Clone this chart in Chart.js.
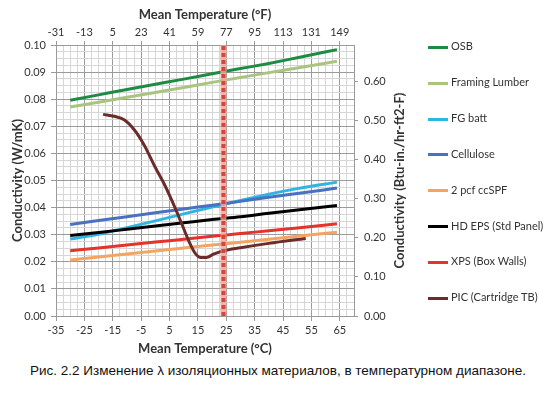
<!DOCTYPE html>
<html>
<head>
<meta charset="utf-8">
<script src="https://cdn.jsdelivr.net/npm/chart.js@4"></script>
<style>
  html, body { margin: 0; padding: 0; background: #fff; }
  #wrap { position: relative; width: 548px; height: 395px; overflow: hidden; }
  #c { position: absolute; left: 0; top: 0; }
  #legend { position: absolute; left: 428px; top: 0; font: 11px Lato, sans-serif; color: #333; }
  .item { position: absolute; left: 0; white-space: nowrap; height: 14px; line-height: 14px; }
  .item i { display: inline-block; width: 20px; height: 3px; vertical-align: middle; margin-right: 3px; }
  #caption { position: absolute; left: 30px; top: 363px; font: 13.5px "Liberation Sans", Arial, sans-serif; color: #111; white-space: nowrap; }
</style>
</head>
<body>
<div id="wrap">
  <canvas id="c" width="548" height="360"></canvas>
  <div id="legend"></div>
  <div id="caption">Рис. 2.2 Изменение λ изоляционных материалов, в температурном диапазоне.</div>
</div>
<script>
'use strict';

// ── данные (°C, W/mK) ─────────────────────────────
const TEMPS = [-30, -20, -10, 0, 10, 20, 30, 40, 50, 64];
const OSB      = [0.0796, 0.0816, 0.0836, 0.0855, 0.0874, 0.0894, 0.0913, 0.0932, 0.0953, 0.0983];
const LUMBER   = [0.0771, 0.0789, 0.0807, 0.0825, 0.0843, 0.0862, 0.0880, 0.0898, 0.0915, 0.0940];
const FG_BATT  = [0.0284, 0.0302, 0.0326, 0.0351, 0.0377, 0.0402, 0.0426, 0.0449, 0.0470, 0.0494];
const CELLULOSE= [0.0338, 0.0352, 0.0366, 0.0381, 0.0395, 0.0409, 0.0423, 0.0438, 0.0452, 0.0472];
const CCSPF    = [0.0207, 0.0218, 0.0229, 0.0240, 0.0251, 0.0262, 0.0272, 0.0283, 0.0294, 0.0309];
const HD_EPS   = [0.0297, 0.0308, 0.0320, 0.0332, 0.0344, 0.0356, 0.0366, 0.0379, 0.0391, 0.0408];
const XPS      = [0.0241, 0.0251, 0.0262, 0.0273, 0.0283, 0.0294, 0.0304, 0.0315, 0.0325, 0.0340];

const PIC_TEMPS = [-18.4, -14.5, -11, -7.5, -4, 0, 3, 6, 9, 12, 14, 16, 18, 20.5, 24, 30, 40, 53];
const PIC       = [0.0744, 0.0737, 0.0724, 0.0688, 0.0632, 0.0548, 0.0490, 0.0422, 0.0348, 0.0272,
                   0.0232, 0.0216, 0.0216, 0.0228, 0.0241, 0.0252, 0.0268, 0.0286];

const REF_TEMPS = [24, 24];
const REF_K     = [0, 0.1];

const BOTTOM_TICKS_C = [-35, -25, -15, -5, 5, 15, 25, 35, 45, 55, 65];
const TOP_TICKS_F    = ['-31', '-13', '5', '23', '41', '59', '77', '95', '113', '131', '149'];
const RIGHT_TICKS    = [0, 0.1, 0.2, 0.3, 0.4, 0.5, 0.6];

const W_TO_BTU = 6.933;

const SERIES = [
  { name: 'OSB',                 color: '#1E8B43', t: TEMPS,     k: OSB },
  { name: 'Framing Lumber',      color: '#A9C47F', t: TEMPS,     k: LUMBER },
  { name: 'FG batt',             color: '#2FB5E3', t: TEMPS,     k: FG_BATT },
  { name: 'Cellulose',           color: '#4A70C0', t: TEMPS,     k: CELLULOSE },
  { name: '2 pcf ccSPF',         color: '#F3A462', t: TEMPS,     k: CCSPF },
  { name: 'HD EPS (Std Panel)',  color: '#000000', t: TEMPS,     k: HD_EPS },
  { name: 'XPS (Box Walls)',     color: '#E5322B', t: TEMPS,     k: XPS },
  { name: 'PIC (Cartridge TB)',  color: '#6C2D2A', t: PIC_TEMPS, k: PIC },
];

const MAJOR = '#9a9a9a';
const MINOR = '#d6d6d6';
const TEXT = '#333';
const tickFont = { family: 'Lato', size: 11 };
const titleFont = { family: 'Lato', size: 13, weight: 'bold' };

function pts(t, k) {
  return t.map((x, i) => ({ x, y: k[i] }));
}

const datasets = SERIES.map((s, i) => ({
  label: s.name,
  data: pts(s.t, s.k),
  borderColor: s.color,
  borderWidth: 3,
  pointRadius: 0,
  cubicInterpolationMode: 'monotone',
  order: 10 - i,
}));

// вертикальная линия 24 °C
datasets.push({
  label: 'ref-halo',
  data: pts(REF_TEMPS, REF_K),
  borderColor: 'rgba(238,165,155,0.8)',
  borderWidth: 6,
  pointRadius: 0,
  order: 1,
});
datasets.push({
  label: 'ref',
  data: pts(REF_TEMPS, REF_K),
  borderColor: '#D6443A',
  borderWidth: 4,
  borderDash: [4, 3],
  pointRadius: 0,
  order: 0,
});

const rightTitle = {
  id: 'rightTitle',
  afterDraw(chart) {
    const { ctx, chartArea } = chart;
    ctx.save();
    ctx.translate(400, (chartArea.top + chartArea.bottom) / 2);
    ctx.rotate(-Math.PI / 2);
    ctx.font = 'bold 13px Lato';
    ctx.fillStyle = TEXT;
    ctx.textAlign = 'center';
    ctx.textBaseline = 'middle';
    ctx.fillText('Conductivity (Btu-in./hr-ft2-F)', 0, 0);
    ctx.restore();
  },
};

new Chart(document.getElementById('c'), {
  type: 'line',
  data: { datasets },
  plugins: [rightTitle],
  options: {
    responsive: false,
    animation: false,
    layout: { padding: 0 },
    plugins: { legend: { display: false }, tooltip: { enabled: false } },
    scales: {
      x: {
        type: 'linear', position: 'bottom', min: -35, max: 70,
        afterBuildTicks: s => { s.ticks = Array.from({ length: 43 }, (_, i) => ({ value: -35 + i * 2.5 })); },
        afterFit: s => { s.height = 44; },
        ticks: {
          autoSkip: false, maxRotation: 0, padding: 3, color: TEXT, font: tickFont,
          callback: (v, i) => (i % 4 === 0 ? String(BOTTOM_TICKS_C[i / 4]) : ''),
        },
        grid: {
          color: c => (c.index % 4 === 0 ? MAJOR : MINOR),
          tickColor: c => (c.index % 4 === 0 ? MAJOR : 'transparent'),
          tickLength: 5,
        },
        border: { color: MAJOR },
        title: { display: true, text: 'Mean Temperature (°C)', color: TEXT, font: titleFont, padding: { top: 0, bottom: 3 } },
      },
      x2: {
        type: 'linear', position: 'top', min: -35, max: 70,
        afterBuildTicks: s => { s.ticks = BOTTOM_TICKS_C.map(v => ({ value: v })); },
        afterFit: s => { s.height = 45; },
        ticks: {
          autoSkip: false, maxRotation: 0, padding: 2, color: TEXT, font: tickFont,
          callback: (v, i) => TOP_TICKS_F[i],
        },
        grid: { drawOnChartArea: false, color: MAJOR, tickLength: 4 },
        border: { color: MAJOR },
        title: { display: true, text: 'Mean Temperature (°F)', color: TEXT, font: titleFont, padding: { top: 7, bottom: 0 } },
      },
      y: {
        type: 'linear', position: 'left', min: 0, max: 0.1,
        afterBuildTicks: s => { s.ticks = Array.from({ length: 41 }, (_, i) => ({ value: i * 0.0025 })); },
        afterFit: s => { s.width = 56; },
        ticks: {
          autoSkip: false, padding: 5, color: TEXT, font: tickFont,
          callback: (v, i) => (i % 4 === 0 ? (i / 400).toFixed(2) : ''),
        },
        grid: {
          color: c => (c.index % 4 === 0 ? MAJOR : MINOR),
          tickColor: c => (c.index % 4 === 0 ? MAJOR : 'transparent'),
          tickLength: 5,
        },
        border: { color: MAJOR },
        title: { display: true, text: 'Conductivity (W/mK)', color: TEXT, font: titleFont, padding: { top: 10, bottom: 0 } },
      },
      y2: {
        type: 'linear', position: 'right', min: 0, max: 0.1 * W_TO_BTU,
        afterBuildTicks: s => { s.ticks = RIGHT_TICKS.map(v => ({ value: v })); },
        afterFit: s => { s.width = 194; },
        ticks: { autoSkip: false, padding: 6, color: TEXT, font: tickFont, callback: v => v.toFixed(2) },
        grid: { drawOnChartArea: false, color: MAJOR, tickLength: 4 },
        border: { color: MAJOR },
      },
    },
  },
});

// легенда
const legend = document.getElementById('legend');
SERIES.forEach((s, i) => {
  const el = document.createElement('div');
  el.className = 'item';
  el.style.top = (46 + i * 35.9 - 7) + 'px';
  el.innerHTML = `<i style="background:${s.color}"></i>${s.name}`;
  legend.appendChild(el);
});
</script>
</body>
</html>
